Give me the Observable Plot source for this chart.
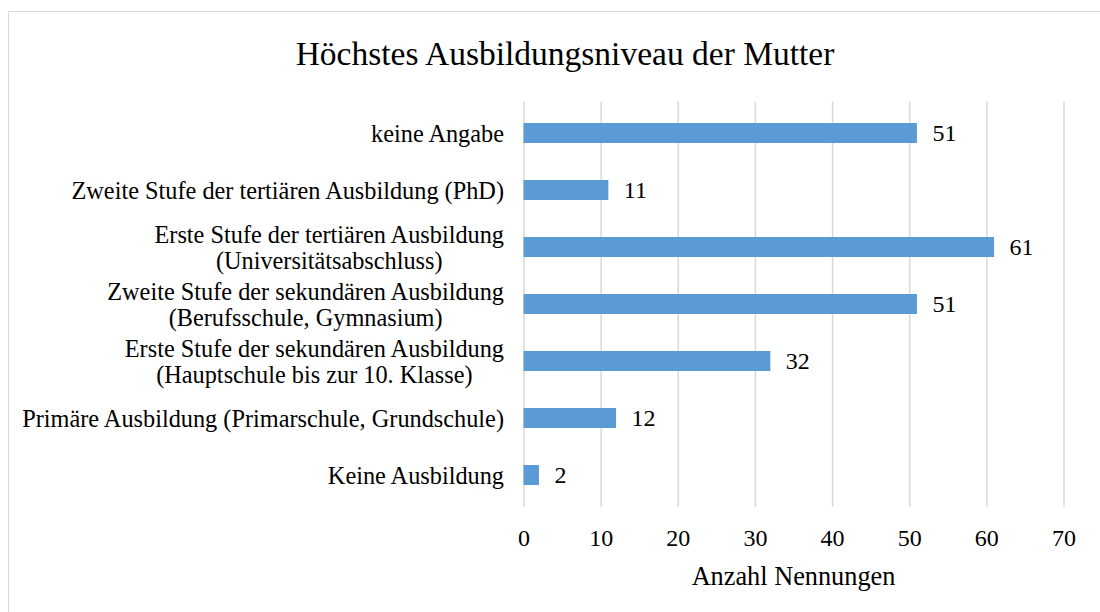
<!DOCTYPE html>
<html>
<head>
<meta charset="utf-8">
<script src="https://cdn.jsdelivr.net/npm/d3@7"></script>
<script src="https://cdn.jsdelivr.net/npm/@observablehq/plot@0.6"></script>
<style>
  html, body { margin: 0; padding: 0; background: #fff; }
  body { width: 1100px; height: 612px; position: relative; overflow: hidden;
         font-family: "Liberation Serif", "Times New Roman", serif; color: #000; }
  #frame { position: absolute; left: 8px; top: 11px; width: 1200px; height: 700px;
           border: 1.5px solid #d9d9d9; box-sizing: border-box; }
  #title { position: absolute; left: 0; top: 34px; width: 1130px; text-align: center;
           font-size: 33.5px; line-height: 40px; }
  #chart { position: absolute; left: 0; top: 90px; }
  #xlabel { position: absolute; left: 523.5px; width: 540px; top: 561px; text-align: center;
            font-size: 26.3px; line-height: 32px; }
</style>
</head>
<body>
<div id="frame"></div>
<div id="title">Höchstes Ausbildungsniveau der Mutter</div>
<div id="chart"></div>
<div id="xlabel">Anzahl Nennungen</div>
<script>
const categories = [
  "keine Angabe",
  "Zweite Stufe der tertiären Ausbildung (PhD)",
  "Erste Stufe der tertiären Ausbildung\n(Universitätsabschluss)",
  "Zweite Stufe der sekundären Ausbildung\n(Berufsschule, Gymnasium)",
  "Erste Stufe der sekundären Ausbildung\n(Hauptschule bis zur 10. Klasse)",
  "Primäre Ausbildung (Primarschule, Grundschule)",
  "Keine Ausbildung"
];
const counts = [51, 11, 61, 51, 32, 12, 2];
const xTicks = [0, 10, 20, 30, 40, 50, 60, 70];

const data = categories.map((c, i) => ({category: c, count: counts[i]}));

const chart = Plot.plot({
  width: 1100,
  height: 522,
  marginLeft: 523.5,
  marginRight: 36.5,
  marginTop: 11.5,
  marginBottom: 105,
  style: {fontFamily: "'Liberation Serif', 'Times New Roman', serif", fontSize: "24px", color: "#000", background: "transparent"},
  x: {domain: [0, 70]},
  y: {domain: categories, paddingInner: 0.655, paddingOuter: 0.3275},
  marks: [
    Plot.gridX(xTicks, {stroke: "#d9d9d9", strokeOpacity: 1, strokeWidth: 1.5}),
    Plot.barX(data, {x: "count", y: "category", fill: "#5b9bd5"}),
    Plot.text(data, {x: "count", y: "category", text: d => String(d.count), textAnchor: "start", dx: 15, fontSize: 24, fill: "#000"}),
    Plot.axisX({ticks: xTicks, tickSize: 0, tickPadding: 21, fontSize: 24, label: null, tickFormat: d => String(d)}),
    Plot.axisY({tickSize: 0, tickPadding: 20, fontSize: 24.3, label: null, lineHeight: 1.08})
  ]
});
document.getElementById("chart").appendChild(chart);

// center lines of multi-line category labels relative to each other
chart.querySelectorAll("text").forEach(t => {
  const spans = t.querySelectorAll("tspan");
  if (spans.length > 1) {
    const bb = t.getBBox();
    const cx = bb.x + bb.width / 2;
    t.setAttribute("text-anchor", "middle");
    spans.forEach(s => s.setAttribute("x", cx));
  }
});
</script>
</body>
</html>
